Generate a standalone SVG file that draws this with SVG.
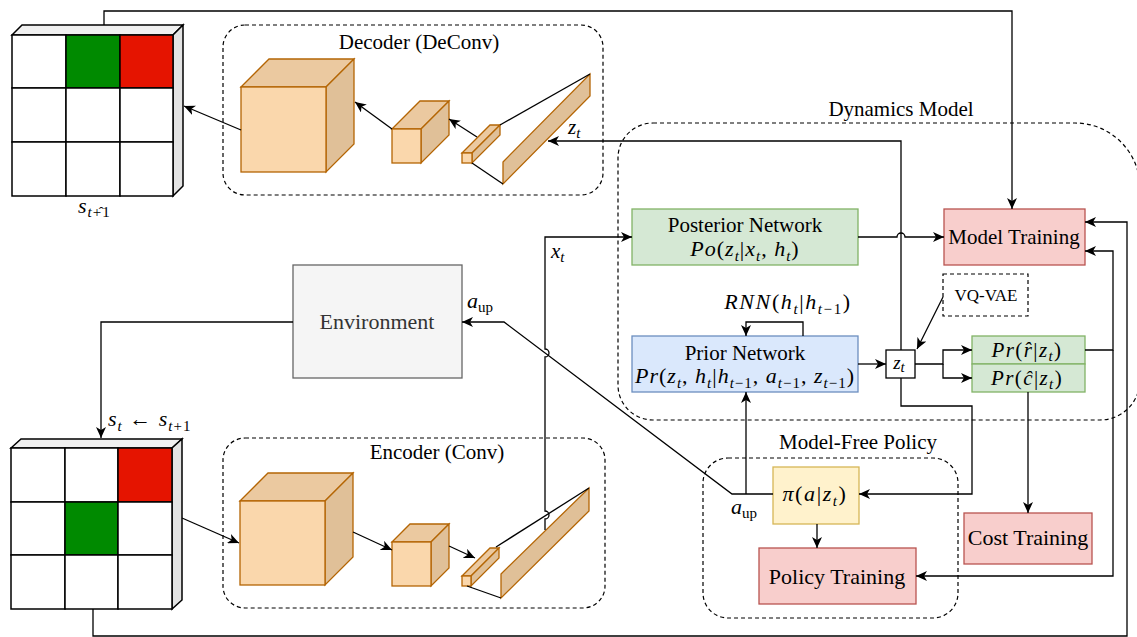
<svg xmlns="http://www.w3.org/2000/svg" width="1137" height="637" viewBox="0 0 1137 637" font-family="'Liberation Serif', 'Times New Roman', 'DejaVu Serif', 'Noto Serif', serif">
  <style>
    text { font-family: "Liberation Serif", "Times New Roman", "DejaVu Serif", "Noto Serif", serif; fill: #000; }
    .m { font-style: italic; }
    .sb { font-size: 15px; }
    .eq { letter-spacing: 1px; }
    .ln { fill: none; stroke: #000; stroke-width: 1.3; }
    .la { fill: none; stroke: #000; stroke-width: 1.3; marker-end: url(#arr); }
    .grp { fill: none; stroke: #000; stroke-width: 1.2; stroke-dasharray: 4 3; }
    .cell { fill: #fff; stroke: #000; stroke-width: 1.5; }
    .gtop { fill: #f0f0f0; stroke: #000; stroke-width: 1.5; }
    .gside { fill: #e3e3e3; stroke: #000; stroke-width: 1.5; }
    .cf { fill: #fad7ac; stroke: #b46504; stroke-width: 1.3; }
    .ct { fill: #ebc9a0; stroke: #b46504; stroke-width: 1.3; }
    .cs { fill: #e0c098; stroke: #b46504; stroke-width: 1.3; }
    .green { fill: #d5e8d4; stroke: #82b366; stroke-width: 1.3; }
    .blue { fill: #dae8fc; stroke: #6c8ebf; stroke-width: 1.3; }
    .red { fill: #f8cecc; stroke: #b85450; stroke-width: 1.3; }
    .yel { fill: #fff2cc; stroke: #d6b656; stroke-width: 1.3; }
    .env { fill: #f5f5f5; stroke: #666666; stroke-width: 1.3; }
  </style>
  <defs>
    <marker id="arr" viewBox="0 0 11 10" refX="11" refY="5" markerWidth="11" markerHeight="10" markerUnits="userSpaceOnUse" orient="auto">
      <path d="M0,0 L11,5 L0,10 L3,5 Z" fill="#000"/>
    </marker>
  </defs>

  <rect width="1137" height="637" fill="#fff"/>

  <!-- group frames -->
  <g id="decoder-frame">
    <rect class="grp" x="223" y="25" width="380" height="170" rx="22"/>
    <text x="419" y="49" font-size="21" text-anchor="middle">Decoder (DeConv)</text>
  </g>
  <g id="encoder-frame">
    <rect class="grp" x="223" y="438" width="382" height="170" rx="22"/>
    <text x="437" y="459" font-size="21" text-anchor="middle">Encoder (Conv)</text>
  </g>
  <g id="dynamics-frame">
    <path class="grp" d="M653,123 H1075 A65,65 0 0 1 1140,188 V380 A40,40 0 0 1 1100,420 H653 A35,35 0 0 1 618,385 V158 A35,35 0 0 1 653,123 Z"/>
    <text x="901" y="116" font-size="21" text-anchor="middle">Dynamics Model</text>
  </g>
  <g id="policy-frame">
    <rect class="grp" x="703" y="458" width="255" height="160" rx="25"/>
    <text x="858" y="449" font-size="21" text-anchor="middle">Model-Free Policy</text>
  </g>

  <!-- predicted next state grid -->
  <g id="grid-next">
    <polygon class="gtop" points="12,35 22,25 183,25 173,35"/>
    <polygon class="gside" points="173,35 183,25 183,186 173,196"/>
    <rect class="cell" x="12" y="35" width="54" height="53"/>
    <rect class="cell" x="66" y="35" width="54" height="53" style="fill:#008a00"/>
    <rect class="cell" x="120" y="35" width="53" height="53" style="fill:#e51400"/>
    <rect class="cell" x="12" y="88" width="54" height="54"/>
    <rect class="cell" x="66" y="88" width="54" height="54"/>
    <rect class="cell" x="120" y="88" width="53" height="54"/>
    <rect class="cell" x="12" y="142" width="54" height="54"/>
    <rect class="cell" x="66" y="142" width="54" height="54"/>
    <rect class="cell" x="120" y="142" width="53" height="54"/>
    <text font-size="22" x="78" y="213" class="eq"><tspan class="m">s</tspan><tspan class="sb" dy="4"><tspan class="m">t</tspan>+̂1</tspan></text>
  </g>

  <!-- current state grid -->
  <g id="grid-current">
    <polygon class="gtop" points="11,448 21,439 182,439 172,448"/>
    <polygon class="gside" points="172,448 182,439 182,600 172,609"/>
    <rect class="cell" x="11" y="448" width="54" height="54"/>
    <rect class="cell" x="65" y="448" width="53" height="54"/>
    <rect class="cell" x="118" y="448" width="54" height="54" style="fill:#e51400"/>
    <rect class="cell" x="11" y="502" width="54" height="53"/>
    <rect class="cell" x="65" y="502" width="53" height="53" style="fill:#008a00"/>
    <rect class="cell" x="118" y="502" width="54" height="53"/>
    <rect class="cell" x="11" y="555" width="54" height="54"/>
    <rect class="cell" x="65" y="555" width="53" height="54"/>
    <rect class="cell" x="118" y="555" width="54" height="54"/>
  </g>

  <!-- decoder layers -->
  <g id="decoder-layers">
    <polygon class="ct" points="241,87 269,59 354,59 326,87"/>
    <polygon class="cs" points="326,87 354,59 354,144 326,172"/>
    <rect class="cf" x="241" y="87" width="85" height="85"/>
    <polygon class="ct" points="392,129 420,101 449,101 421,129"/>
    <polygon class="cs" points="421,129 449,101 449,135 421,163"/>
    <rect class="cf" x="392" y="129" width="29" height="34"/>
    <polygon class="ct" points="462,153 490,125 500,125 472,153"/>
    <polygon class="cs" points="472,153 500,125 500,135 472,163"/>
    <rect class="cf" x="462" y="153" width="10" height="10"/>
    <polygon class="cs" points="503,162 590,74 590,96 503,184"/>
    <line class="ln" x1="500" y1="125" x2="590" y2="74"/>
    <line class="ln" x1="472" y1="163" x2="503" y2="184"/>
  </g>

  <!-- encoder layers -->
  <g id="encoder-layers">
    <polygon class="ct" points="240,501 268,473 353,473 325,501"/>
    <polygon class="cs" points="325,501 353,473 353,557 325,585"/>
    <rect class="cf" x="240" y="501" width="85" height="84"/>
    <polygon class="ct" points="392,542 410,524 449,524 431,542"/>
    <polygon class="cs" points="431,542 449,524 449,568 431,586"/>
    <rect class="cf" x="392" y="542" width="39" height="44"/>
    <polygon class="ct" points="462,576 490,548 499,548 471,576"/>
    <polygon class="cs" points="471,576 499,548 499,558 471,586"/>
    <rect class="cf" x="462" y="576" width="9" height="10"/>
    <polygon class="cs" points="501,574 589,488 589,511 501,598"/>
    <line class="ln" x1="496" y1="547" x2="589" y2="488"/>
    <line class="ln" x1="467" y1="586" x2="501" y2="598"/>
  </g>

  <g id="environment">
    <rect class="env" x="293" y="265" width="169" height="113"/>
    <text x="377" y="329" font-size="22" text-anchor="middle" style="fill:#333">Environment</text>
  </g>

  <g id="posterior">
    <rect class="green" x="632" y="209" width="226" height="56"/>
    <text x="745" y="232" font-size="21" text-anchor="middle">Posterior Network</text>
    <text x="745" y="256" font-size="22" text-anchor="middle" class="eq"><tspan class="m">Po</tspan>(<tspan class="m">z</tspan><tspan class="sb m" dy="5">t</tspan><tspan dy="-5">|</tspan><tspan class="m">x</tspan><tspan class="sb m" dy="5">t</tspan><tspan dy="-5">, </tspan><tspan class="m">h</tspan><tspan class="sb m" dy="5">t</tspan><tspan dy="-5">)</tspan></text>
  </g>

  <g id="model-training">
    <rect class="red" x="944" y="209" width="141" height="56"/>
    <text x="1014" y="244" font-size="21" text-anchor="middle">Model Training</text>
  </g>

  <g id="vq-vae">
    <rect class="grp" x="943" y="274" width="85" height="42"/>
    <text x="986" y="301" font-size="17" text-anchor="middle">VQ-VAE</text>
  </g>

  <g id="prior">
    <rect class="blue" x="632" y="336" width="226" height="56"/>
    <text x="745" y="360" font-size="21" text-anchor="middle">Prior Network</text>
    <text x="745" y="383" font-size="22" text-anchor="middle" class="eq"><tspan class="m">Pr</tspan>(<tspan class="m">z</tspan><tspan class="sb m" dy="5">t</tspan><tspan dy="-5">, </tspan><tspan class="m">h</tspan><tspan class="sb m" dy="5">t</tspan><tspan dy="-5">|</tspan><tspan class="m">h</tspan><tspan class="sb" dy="5"><tspan class="m">t</tspan>−1</tspan><tspan dy="-5">, </tspan><tspan class="m">a</tspan><tspan class="sb" dy="5"><tspan class="m">t</tspan>−1</tspan><tspan dy="-5">, </tspan><tspan class="m">z</tspan><tspan class="sb" dy="5"><tspan class="m">t</tspan>−1</tspan><tspan dy="-5">)</tspan></text>
    <text x="788" y="309" font-size="22" text-anchor="middle" style="letter-spacing:1.6px"><tspan class="m">RNN</tspan>(<tspan class="m">h</tspan><tspan class="sb m" dy="5">t</tspan><tspan dy="-5">|</tspan><tspan class="m">h</tspan><tspan class="sb" dy="5"><tspan class="m">t</tspan>−1</tspan><tspan dy="-5">)</tspan></text>
  </g>

  <g id="latent">
    <rect x="886" y="350" width="29" height="28" fill="#fff" stroke="#000" stroke-width="1.3"/>
    <text x="899" y="369" font-size="19" text-anchor="middle"><tspan class="m">z</tspan><tspan class="sb m" dy="3">t</tspan></text>
  </g>

  <g id="reward-cost-heads">
    <rect class="green" x="972" y="336" width="113" height="28"/>
    <rect class="green" x="972" y="364" width="113" height="28"/>
    <text x="1027" y="357" font-size="21" text-anchor="middle" style="letter-spacing:1.4px"><tspan class="m">Pr</tspan>(<tspan class="m">r̂</tspan>|<tspan class="m">z</tspan><tspan class="sb m" dy="4">t</tspan><tspan dy="-4">)</tspan></text>
    <text x="1027" y="385" font-size="21" text-anchor="middle" style="letter-spacing:1.4px"><tspan class="m">Pr</tspan>(<tspan class="m">ĉ</tspan>|<tspan class="m">z</tspan><tspan class="sb m" dy="4">t</tspan><tspan dy="-4">)</tspan></text>
  </g>

  <g id="policy">
    <rect class="yel" x="773" y="467" width="86" height="57"/>
    <text x="815" y="501" font-size="22" text-anchor="middle" style="letter-spacing:1.6px"><tspan class="m">π</tspan>(<tspan class="m">a</tspan>|<tspan class="m">z</tspan><tspan class="sb m" dy="5">t</tspan><tspan dy="-5">)</tspan></text>
  </g>

  <g id="policy-training">
    <rect class="red" x="759" y="548" width="157" height="56"/>
    <text x="837" y="584" font-size="22" text-anchor="middle">Policy Training</text>
  </g>

  <g id="cost-training">
    <rect class="red" x="964" y="513" width="128" height="51"/>
    <text x="1028" y="545" font-size="22" text-anchor="middle">Cost Training</text>
  </g>

  <!-- connectors -->
  <g id="connectors">
    <path class="la" d="M104,25 V11 H1012 V209"/>
    <path class="la" d="M241,130 L184,106"/>
    <path class="la" d="M392,129 L355,102"/>
    <path class="la" d="M477,137 L449,119"/>
    <path class="la" d="M901,350 V141 H548"/>
    <path class="la" d="M858,237 H897 A4,4 0 0 1 905,237 H944"/>
    <path class="la" d="M545,530 V519 A4,4 0 0 0 545,511 V357 A4,4 0 0 0 545,349 V237 H632"/>
    <path class="la" d="M293,322 H101 V438"/>
    <path class="la" d="M182,518 L239,543"/>
    <path class="la" d="M353,532 L392,550"/>
    <path class="la" d="M449,546 L475,558"/>
    <path class="la" d="M773,494 H732 L504,322 H462"/>
    <path class="la" d="M746,494 V392"/>
    <path class="la" d="M803,336 V322 H746 V336"/>
    <path class="la" d="M858,364 H886"/>
    <path class="la" d="M915,364 H943 V350 H972"/>
    <path class="la" d="M943,364 V378 H972"/>
    <path class="la" d="M943,297 L917,349"/>
    <path class="la" d="M901,378 V406 H972 V494 H859"/>
    <path class="la" d="M1028,392 V513"/>
    <path class="la" d="M1085,350 H1113 V251 H1085"/>
    <path class="la" d="M1113,350 V576 H916"/>
    <path class="la" d="M817,524 V548"/>
    <path class="la" d="M93,609 V636 H1127 V222 H1085"/>

    <!-- connector labels -->
    <text font-size="21" x="568" y="134"><tspan class="m">z</tspan><tspan class="sb m" dy="4">t</tspan></text>
    <text font-size="21" x="551" y="258"><tspan class="m">x</tspan><tspan class="sb m" dy="4">t</tspan></text>
    <text font-size="22" x="467" y="308"><tspan class="m">a</tspan><tspan class="sb" dy="4">up</tspan></text>
    <text font-size="22" x="731" y="514"><tspan class="m">a</tspan><tspan class="sb" dy="4">up</tspan></text>
    <text font-size="22" x="108" y="426" style="letter-spacing:1px"><tspan class="m">s</tspan><tspan class="sb m" dy="5">t</tspan><tspan dy="-5"> ← </tspan><tspan class="m">s</tspan><tspan class="sb" dy="5"><tspan class="m">t</tspan>+1</tspan></text>
  </g>
</svg>
